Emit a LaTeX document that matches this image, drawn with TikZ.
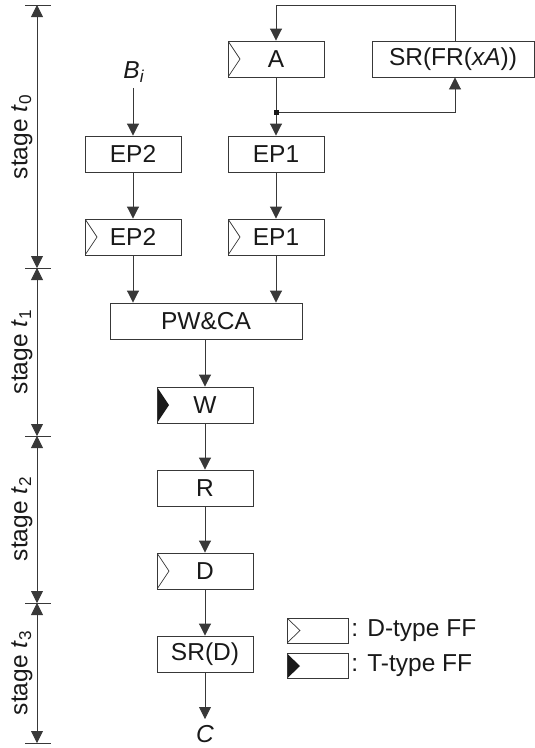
\documentclass[tikz,border=0pt]{standalone}
\usepackage{fontspec}
\setmainfont{Liberation Sans}
\usetikzlibrary{arrows.meta,calc}
\begin{document}
\begin{tikzpicture}[x=1pt,y=-1pt,
  line width=0.9pt,
  lc/.style={draw=black!78},
  tip/.style={-{Triangle[length=12pt,width=12pt]}},
  dimarr/.style={{Triangle[length=12pt,width=12pt]}-{Triangle[length=12pt,width=12pt]}},
  box/.style={lc,fill=white,minimum width=96pt,minimum height=36pt,inner sep=0pt,
    font=\fontsize{24.5}{28}\selectfont,text=black!90},
  dff/.style={path picture={\draw[black!78,line width=0.7pt]
    (path picture bounding box.north west) -- ([xshift=#1]path picture bounding box.west)
    -- (path picture bounding box.south west);}},
  dff/.default=12pt,
  tff/.style={path picture={\fill[black!90]
    (path picture bounding box.north west) -- ([xshift=#1]path picture bounding box.west)
    -- (path picture bounding box.south west) -- cycle;}},
  tff/.default=12pt,
  lbl/.style={font=\fontsize{24.5}{28}\selectfont,text=black!90,inner sep=0pt},
  stg/.style={lbl,rotate=90}]
\useasboundingbox (0,0) rectangle (535,748);

% stage dimension lines
\coordinate (b0) at (37,5);
\coordinate (b1) at (37,268);
\coordinate (b2) at (37,436);
\coordinate (b3) at (37,603);
\coordinate (b4) at (37,743);
\foreach \p in {b0,b1,b2,b3,b4} \draw[lc] ($(\p)+(-12,0)$) -- ($(\p)+(14,0)$);
\draw[lc,dimarr] (b0) -- (b1);
\draw[lc,dimarr] (b1) -- (b2);
\draw[lc,dimarr] (b2) -- (b3);
\draw[lc,dimarr] (b3) -- (b4);
\node[stg] (st0) at (22,137) {stage \textit{t}\textsubscript{0}};
\node[stg] (st1) at (22,352) {stage \textit{t}\textsubscript{1}};
\node[stg] (st2) at (22,519) {stage \textit{t}\textsubscript{2}};
\node[stg] (st3) at (22,673) {stage \textit{t}\textsubscript{3}};

% nodes
\node[box,dff] (A) at (276,59) {A};
\node[box,minimum width=162pt] (SR) at (453,59) {SR(FR(\textit{xA}))};
\node[lbl] (Bi) at (134,72) {\textit{B}\textsubscript{\textit{i}}};
\node[box] (EP2a) at (133,154) {EP2};
\node[box] (EP1a) at (276,154) {EP1};
\node[box,dff] (EP2b) at (133,237) {EP2};
\node[box,dff] (EP1b) at (276,237) {EP1};
\node[box,minimum width=192pt] (PW) at (206,321) {PW\&CA};
\node[box,tff] (W) at (205,405) {W};
\node[box] (R) at (205,488) {R};
\node[box,dff] (D) at (205,571) {D};
\node[box] (SRD) at (205,654) {SR(D)};
\node[lbl,anchor=north] (C) at (205,725) {\textit{C}};

% connectors
\coordinate (top) at (455,5);
\coordinate (jn) at (276,112);
\draw[lc,tip] (top |- SR.north) -- (top) -| (A.north);
\draw[lc,tip] (A.south) -- (EP1a.north);
\draw[lc,tip] (jn) -| (top |- SR.south);
\fill[black!90] ($(jn)+(-2.5,-2.5)$) rectangle ($(jn)+(2.5,2.5)$);
\draw[lc,tip] ([yshift=-5pt]Bi.south -| EP2a.north) -- (EP2a.north);
\draw[lc,tip] (EP2a) -- (EP2b);
\draw[lc,tip] (EP1a) -- (EP1b);
\draw[lc,tip] (EP2b.south) -- (EP2b.south |- PW.north);
\draw[lc,tip] (EP1b.south) -- (EP1b.south |- PW.north);
\draw[lc,tip] (W.north |- PW.south) -- (W.north);
\draw[lc,tip] (W) -- (R);
\draw[lc,tip] (R) -- (D);
\draw[lc,tip] (D) -- (SRD);
\draw[lc,tip] (SRD.south) -- ([yshift=6pt]C.north);

% legend
\node[box,dff=13pt,minimum width=61pt,minimum height=25pt] (LD) at (317.5,630.5) {};
\node[box,tff=13pt,minimum width=61pt,minimum height=25pt] (LT) at (317.5,666) {};
\node[lbl,anchor=west] (LDt) at (351,630.5) {: D-type FF};
\node[lbl,anchor=west] (LTt) at (351,666) {: T-type FF};
\end{tikzpicture}
\end{document}
